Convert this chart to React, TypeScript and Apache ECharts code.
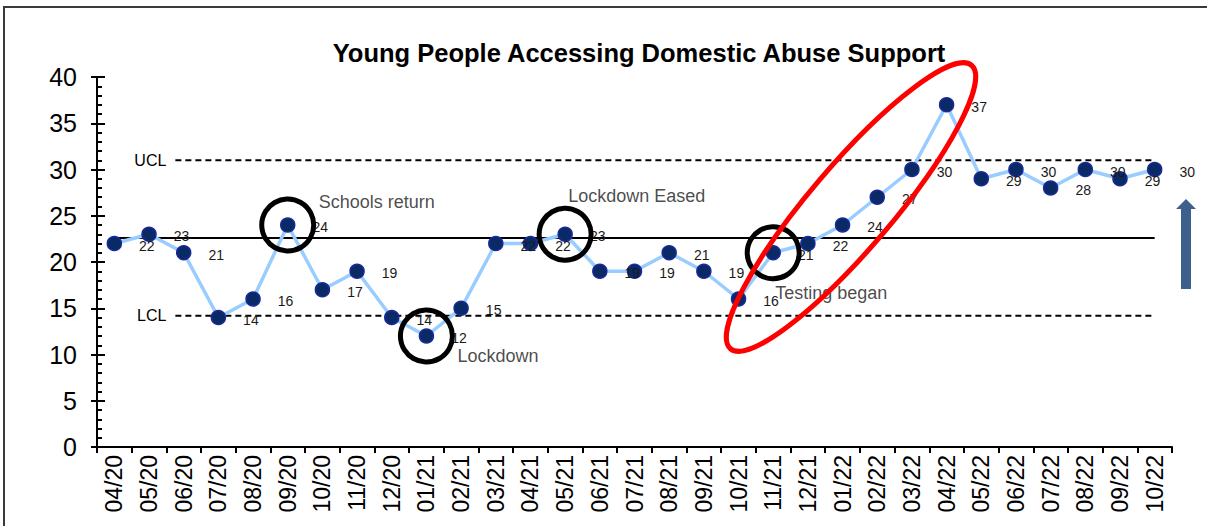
import React, { useEffect, useRef } from "react";
import * as echarts from "echarts";

const months = [
  "04/20", "05/20", "06/20", "07/20", "08/20", "09/20", "10/20", "11/20", "12/20",
  "01/21", "02/21", "03/21", "04/21", "05/21", "06/21", "07/21", "08/21", "09/21",
  "10/21", "11/21", "12/21", "01/22", "02/22", "03/22", "04/22", "05/22", "06/22",
  "07/22", "08/22", "09/22", "10/22",
];
const counts = [
  22, 23, 21, 14, 16, 24, 17, 19, 14, 12, 15, 22, 22, 23, 19, 19, 21, 19, 16, 21,
  22, 24, 27, 30, 37, 29, 30, 28, 30, 29, 30,
];
const centreLine = 22.6;
const ucl = 31.0;
const lcl = 14.2;
const limitStart = 1.76;
// annotated months: category index, label text, label dx, label dy
const eventIdx = [5, 9, 13, 19];
const eventText = ["Schools return", "Lockdown", "Lockdown Eased", "Testing began"];
const eventDx = [31, 31, 3, 2];
const eventDy = [-23, 20, -38, 40];
const yTicks = { min: 0, max: 40, interval: 5 };

const FONT = "Liberation Sans, Arial, sans-serif";

export default function App() {
  const ref = useRef<HTMLDivElement>(null);
  useEffect(() => {
    if (!ref.current) return;
    const chart = echarts.init(ref.current, null, { renderer: "svg" });
    const last = counts.length - 1;
    const option: any = {
      animation: false,
      textStyle: { fontFamily: FONT },
      title: {
        text: "Young People Accessing Domestic Abuse Support",
        left: 634,
        top: 35,
        textAlign: "center",
        textStyle: { fontFamily: FONT, fontSize: 25.5, fontWeight: "bold", color: "#000" },
      },
      grid: { left: 97, top: 77, right: 35, bottom: 79, containLabel: false },
      xAxis: [
        {
          type: "category",
          data: months,
          boundaryGap: true,
          axisLine: { onZero: false, lineStyle: { color: "#000", width: 2 } },
          axisTick: { show: true, length: 6, inside: false, lineStyle: { color: "#000", width: 2 } },
          axisLabel: { rotate: 90, fontSize: 23, color: "#000", margin: 8, fontFamily: FONT, interval: 0 },
          splitLine: { show: false },
        },
        {
          type: "value",
          min: -0.5,
          max: 30.5,
          show: false,
        },
      ],
      yAxis: [
        {
          type: "value",
          min: yTicks.min,
          max: yTicks.max,
          interval: yTicks.interval,
          axisLine: { show: true, onZero: false, lineStyle: { color: "#000", width: 2 } },
          axisTick: { show: true, inside: true, length: 8, lineStyle: { color: "#000", width: 2 } },
          minorTick: { show: true, splitNumber: 5, length: 5, lineStyle: { color: "#000", width: 2 } },
          axisLabel: { fontSize: 25, color: "#000", margin: 20, fontFamily: FONT },
          splitLine: { show: false },
        },
        {
          type: "value",
          position: "left",
          offset: 0,
          min: yTicks.min,
          max: yTicks.max,
          interval: yTicks.interval,
          axisLine: { show: false, onZero: false },
          axisTick: { show: true, inside: false, length: 6, lineStyle: { color: "#000", width: 2 } },
          minorTick: { show: false },
          axisLabel: { show: false },
          splitLine: { show: false },
        },
      ],
      series: [
        {
          type: "line",
          xAxisIndex: 1,
          yAxisIndex: 0,
          data: [[0, centreLine], [last, centreLine]],
          showSymbol: false,
          symbol: "none",
          lineStyle: { color: "#000", width: 2 },
          z: 1,
          silent: true,
        },
        {
          type: "line",
          xAxisIndex: 1,
          yAxisIndex: 0,
          data: [
            { value: [limitStart, ucl], label: { show: true, position: "left", formatter: "UCL", distance: 9 } },
            [last, ucl],
          ],
          symbol: "circle",
          symbolSize: 0,
          showSymbol: true,
          label: { show: false, fontSize: 16, color: "#000", fontFamily: FONT },
          lineStyle: { color: "#000", width: 2, type: [6, 4] },
          z: 1,
          silent: true,
        },
        {
          type: "line",
          xAxisIndex: 1,
          yAxisIndex: 0,
          data: [
            { value: [limitStart, lcl], label: { show: true, position: "left", formatter: "LCL", distance: 9 } },
            [last, lcl],
          ],
          symbol: "circle",
          symbolSize: 0,
          showSymbol: true,
          label: { show: false, fontSize: 16, color: "#000", fontFamily: FONT },
          lineStyle: { color: "#000", width: 2, type: [6, 4] },
          z: 1,
          silent: true,
        },
        {
          type: "line",
          xAxisIndex: 0,
          yAxisIndex: 0,
          data: counts,
          symbol: "circle",
          symbolSize: 14,
          lineStyle: { color: "#99ccff", width: 3.5 },
          itemStyle: { color: "#0a2a66", borderColor: "#1a2a9a", borderWidth: 1.5 },
          label: {
            show: true,
            position: "right",
            distance: 17,
            offset: [0, 2],
            fontSize: 14,
            color: "#1a1a1a",
            fontFamily: FONT,
          },
          z: 3,
        },
        {
          type: "scatter",
          xAxisIndex: 1,
          yAxisIndex: 0,
          data: eventIdx.map((i) => [i, counts[i]]),
          symbol: "circle",
          symbolSize: 52,
          itemStyle: { color: "rgba(0,0,0,0)", borderColor: "#000", borderWidth: 5, opacity: 1 },
          z: 4,
          silent: true,
        },
        {
          type: "scatter",
          xAxisIndex: 1,
          yAxisIndex: 0,
          data: eventIdx.map((i, k) => ({
            value: [i, counts[i]],
            label: {
              show: true,
              position: "inside",
              align: "left",
              verticalAlign: "middle",
              offset: [eventDx[k], eventDy[k]],
              formatter: eventText[k],
            },
          })),
          symbolSize: 0,
          label: { fontSize: 18, color: "#1a1a1a", fontFamily: FONT },
          z: 5,
          silent: true,
        },
      ],
      graphic: [
        {
          type: "rect",
          shape: { x: 4, y: 7, width: 1220, height: 540 },
          style: { fill: "none", stroke: "#3a3a3a", lineWidth: 2 },
          silent: true,
        },
        {
          type: "ellipse",
          x: 851,
          y: 207,
          rotation: 0.866,
          shape: { cx: 0, cy: 0, rx: 186, ry: 41.5 },
          style: { fill: "none", stroke: "#ff0000", lineWidth: 5 },
          silent: true,
          z: 10,
        },
        {
          type: "polygon",
          shape: {
            points: [
              [1186, 199],
              [1196, 209],
              [1191, 209],
              [1191, 289],
              [1181, 289],
              [1181, 209],
              [1176, 209],
            ],
          },
          style: { fill: "#3c5f8c" },
          silent: true,
        },
      ],
    };
    chart.setOption(option);
    return () => chart.dispose();
  }, []);
  return <div ref={ref} style={{ width: 1207, height: 526, position: "absolute", left: 0, top: 0 }} />;
}
